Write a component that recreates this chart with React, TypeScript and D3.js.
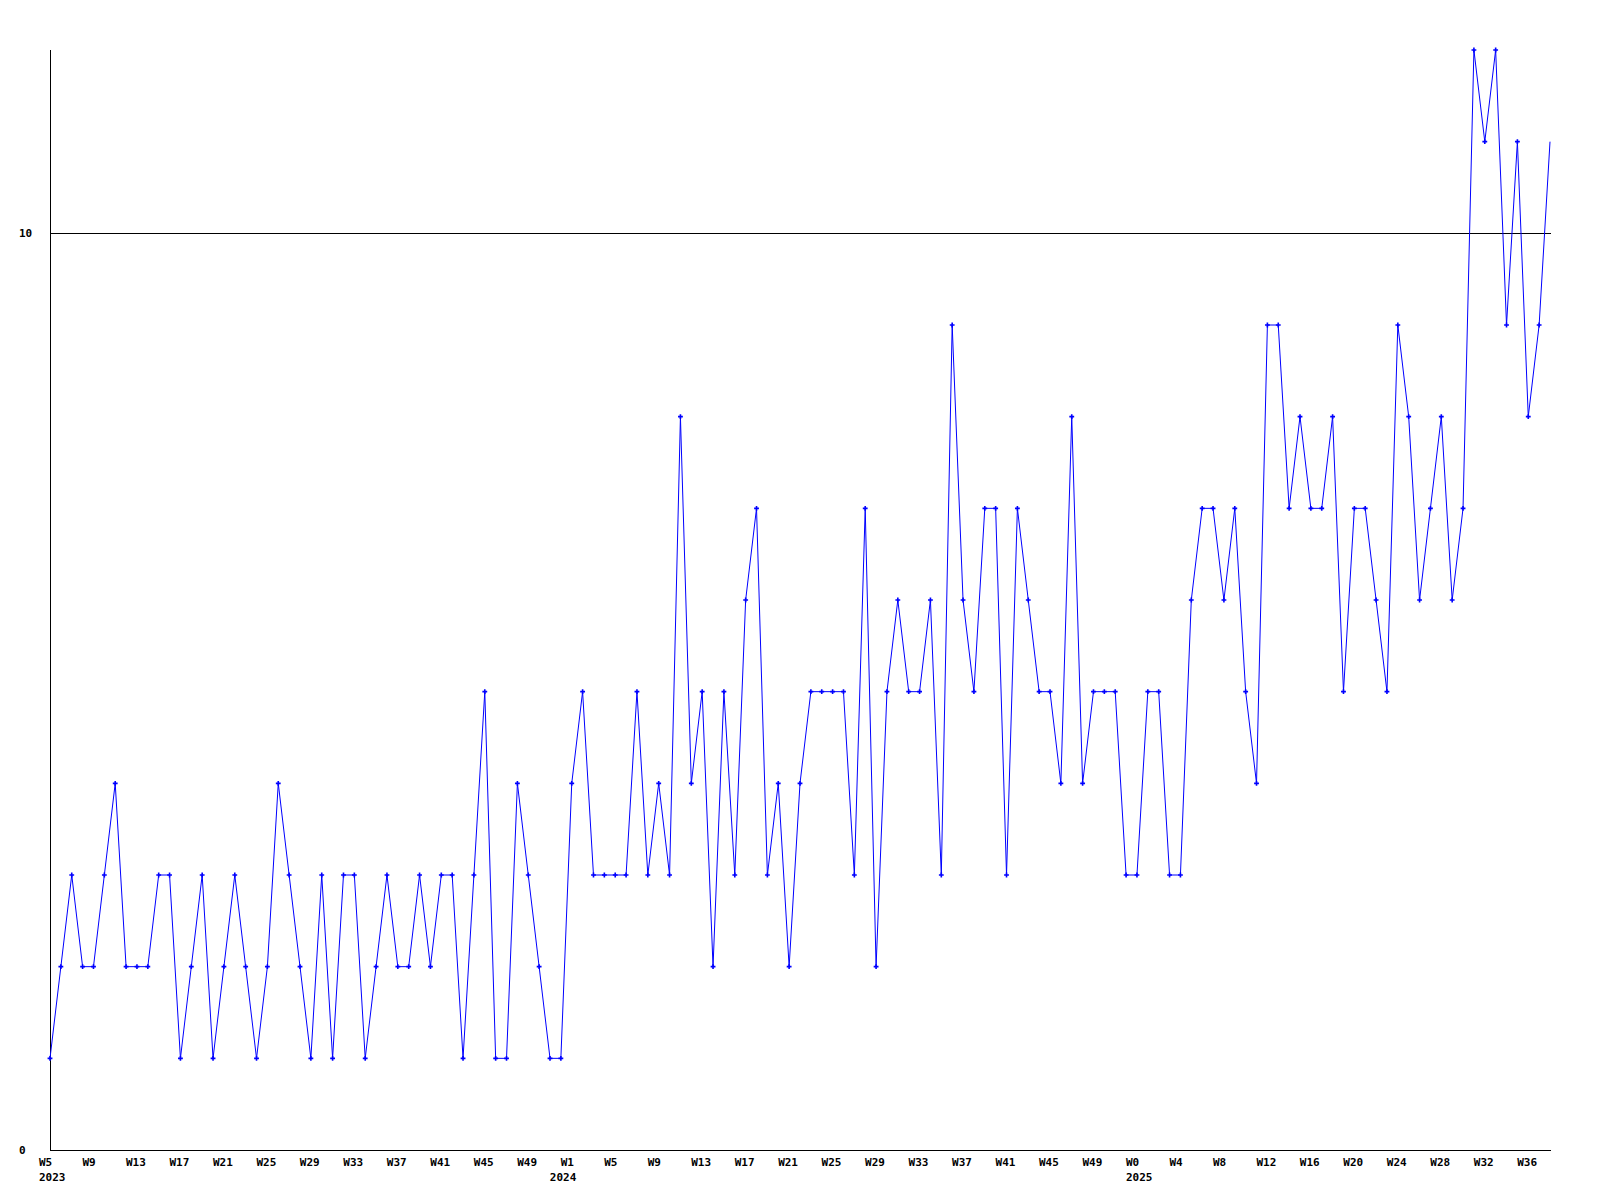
import React from "react";
import * as d3 from "d3";

// Weekly values, 2023 W5 .. 2025 W38
const values2023: number[] = [
  1, 2, 3, 2, 2, 3, 4, 2, 2, 2, 3, 3, 1, 2, 3, 1, 2, 3, 2, 1, 2, 4, 3, 2,
  1, 3, 1, 3, 3, 1, 2, 3, 2, 2, 3, 2, 3, 3, 1, 3, 5, 1, 1, 4, 3, 2, 1, 1,
];
const values2024: number[] = [
  4, 5, 3, 3, 3, 3, 5, 3, 4, 3, 8, 4, 5, 2, 5, 3, 6, 7, 3, 4, 2, 4, 5, 5,
  5, 5, 3, 7, 2, 5, 6, 5, 5, 6, 3, 9, 6, 5, 7, 7, 3, 7, 6, 5, 5, 4, 8, 4,
  5, 5, 5, 3,
];
const values2025: number[] = [
  3, 5, 5, 3, 3, 6, 7, 7, 6, 7, 5, 4, 9, 9, 7, 8, 7, 7, 8, 5, 7, 7, 6, 5,
  9, 8, 6, 7, 8, 6, 7, 12, 11, 12, 9, 11, 8, 9, 11,
];
const yearNames: string[] = ["2023", "2024", "2025"];
const yearStartWeeks: number[] = [5, 1, 0];
// point index under which each year label is printed
const yearLabelAt: number[] = [0, 47, 100];
const yTickValues: number[] = [0, 10];
const gridValues: number[] = [10];
const yMax = 12;
const tickEvery = 4;

type Pt = { i: number; v: number; week: number };

function buildPoints(): Pt[] {
  const groups = [values2023, values2024, values2025];
  const pts: Pt[] = [];
  let i = 0;
  groups.forEach((g, gi) => {
    g.forEach((v, k) => {
      pts.push({ i, v, week: yearStartWeeks[gi] + k });
      i++;
    });
  });
  return pts;
}

export default function App() {
  const W = 1600;
  const H = 1200;
  const left = 50;
  const right = 1550;
  const top = 50;
  const bottom = 1150;
  const pts = buildPoints();
  const x = d3.scaleLinear().domain([0, pts.length - 1]).range([left, right]);
  const y = d3.scaleLinear().domain([0, yMax]).range([bottom, top]);
  const line = d3
    .line<Pt>()
    .x((d) => x(d.i))
    .y((d) => y(d.v));
  const sym = d3.symbol().type(d3.symbolCross).size(13)();
  const font = "'DejaVu Sans Mono', monospace";
  const ticks = pts.filter((p) => p.i % tickEvery === 0);

  return (
    <svg
      width={W}
      height={H}
      style={{ position: "absolute", left: 0, top: 0, background: "#fff" }}
    >
      <rect x={0} y={0} width={W} height={H} fill="#fff" />
      {gridValues.map((g) => (
        <line
          key={g}
          x1={left}
          x2={right + 1}
          y1={Math.round(y(g)) + 0.5}
          y2={Math.round(y(g)) + 0.5}
          stroke="#000"
          strokeWidth={1}
        />
      ))}
      <line x1={left + 0.5} x2={left + 0.5} y1={top} y2={bottom + 1} stroke="#000" strokeWidth={1} />
      <line x1={left} x2={right + 1} y1={bottom + 0.5} y2={bottom + 0.5} stroke="#000" strokeWidth={1} />
      {yTickValues.map((t) => (
        <text
          key={t}
          x={19}
          y={y(t) + 4}
          fontFamily={font}
          fontWeight="bold"
          fontSize={11}
          fill="#000"
        >
          {t}
        </text>
      ))}
      {ticks.map((p) => (
        <text
          key={"w" + p.i}
          x={x(p.i) - 11}
          y={1166}
          fontFamily={font}
          fontWeight="bold"
          fontSize={11}
          fill="#000"
        >
          {"W" + p.week}
        </text>
      ))}
      {yearNames.map((yr, k) => (
        <text
          key={"y" + yr}
          x={x(yearLabelAt[k]) - 11}
          y={1181}
          fontFamily={font}
          fontWeight="bold"
          fontSize={11}
          fill="#000"
        >
          {yr}
        </text>
      ))}
      <path d={line(pts) || ""} fill="none" stroke="#0000ff" strokeWidth={1} />
      {pts.slice(0, pts.length - 1).map((p) => (
        <path
          key={"m" + p.i}
          d={sym || ""}
          transform={`translate(${x(p.i)},${y(p.v)})`}
          fill="#0000ff"
        />
      ))}
    </svg>
  );
}
